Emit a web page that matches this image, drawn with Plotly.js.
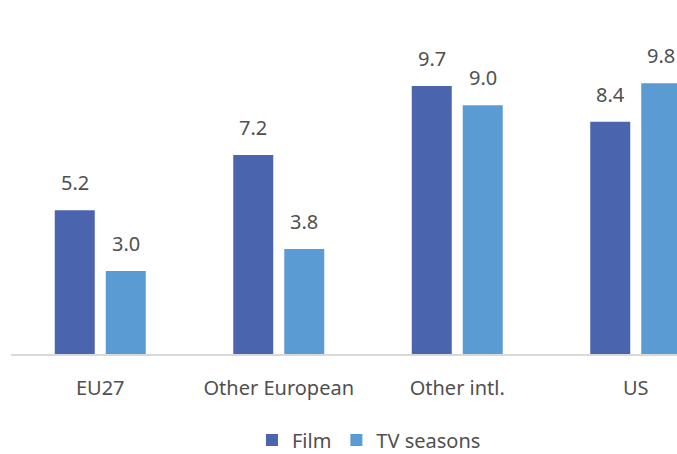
<!DOCTYPE html>
<html>
<head>
<meta charset="utf-8">
<script src="https://cdn.plot.ly/plotly-3.0.1.min.js"></script>
<style>html,body{margin:0;padding:0;background:#fff;}#chart{width:677px;height:454px;}</style>
</head>
<body>
<div id="chart"></div>
<script>
const categories = ["EU27", "Other European", "Other intl.", "US"];
const filmValues = [5.2, 7.2, 9.7, 8.4];
const tvValues = [3.0, 3.8, 9.0, 9.8];
const seriesNames = ["Film", "TV seasons"];
const colors = ["#4A65AE", "#5B9BD3"];
const FONT = "Noto Sans, Open Sans, sans-serif";
const TXT = "#505050";

const PX = 178.5;               // pixels per category
const barW = 40 / PX;
const offsets = [-45.5 / PX, 5.5 / PX];

const traces = [filmValues, tvValues].map((vals, s) => ({
  type: "bar", name: seriesNames[s], x: categories, y: vals,
  width: barW, offset: offsets[s], marker: {color: colors[s]}, hoverinfo: "skip"
}));

const annotations = [];
[filmValues, tvValues].forEach((vals, s) => {
  vals.forEach((v, i) => {
    annotations.push({
      x: i + offsets[s] + barW / 2, y: v, xref: "x", yref: "y",
      text: v.toFixed(1), showarrow: false, yanchor: "bottom", yshift: 12,
      font: {family: FONT, size: 20, color: TXT}
    });
  });
});

const layout = {
  width: 677, height: 454,
  margin: {l: 11, r: 0, t: 50, b: 100},
  paper_bgcolor: "#fff", plot_bgcolor: "#fff",
  barmode: "overlay",
  font: {family: FONT, size: 20, color: TXT},
  xaxis: {type: "category", range: [-0.5, -0.5 + 666 / PX], showline: true, linecolor: "#D9D9D9", linewidth: 1.5,
          ticks: "", tickfont: {family: FONT, size: 20, color: TXT}, ticklabelstandoff: 15, fixedrange: true},
  yaxis: {range: [0, 11], visible: false, showgrid: false, zeroline: false, fixedrange: true},
  showlegend: true,
  legend: {orientation: "h", x: 0.545, xref: "container", xanchor: "center", y: 14 / 454, yref: "container", yanchor: "middle",
           font: {family: FONT, size: 20, color: TXT}, itemwidth: 30, tracegroupgap: 0},
  annotations: annotations
};

Plotly.newPlot("chart", traces, layout, {displayModeBar: false, staticPlot: true});
</script>
</body>
</html>
